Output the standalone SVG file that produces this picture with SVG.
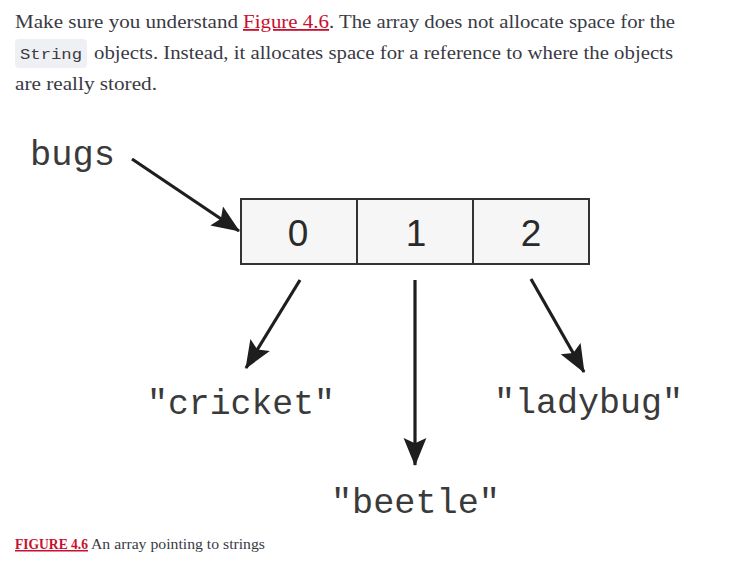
<svg xmlns="http://www.w3.org/2000/svg" width="753" height="588" viewBox="0 0 753 588">
<style>
.p{font-family:"Liberation Serif","DejaVu Serif",serif;font-size:18px;fill:#3a3a44}
.link{fill:#c8102e;text-decoration:underline}
.code{font-family:"Liberation Mono","DejaVu Sans Mono",monospace;font-size:14px;fill:#3a3a44}
.mono{font-family:"Liberation Mono","Courier New",monospace;font-size:35px;fill:#3a3a3a}
.dig{font-family:"Liberation Sans",Arial,sans-serif;font-size:37px;fill:#2a2a2a;text-anchor:middle}
.cell{fill:#f5f6f5;stroke:#333;stroke-width:2}
.arr{stroke:#1e1e1e;stroke-width:3.2;fill:none;marker-end:url(#ah)}
.cap{font-family:"Liberation Serif","DejaVu Serif",serif;font-size:15px;fill:#3a3a44}
.caplink{fill:#c8102e;font-weight:bold;text-decoration:underline}
</style>
<defs>
<marker id="ah" markerUnits="userSpaceOnUse" markerWidth="28" markerHeight="24" viewBox="0 0 27 22" refX="26" refY="11" orient="auto">
<path d="M0,0 L27,11 L0,22 L5,11 Z" fill="#1e1e1e"/>
</marker>
</defs>
<g id="paragraph">
<text class="p" x="15" y="28" textLength="223" lengthAdjust="spacingAndGlyphs">Make sure you understand</text>
<text class="p link" x="243" y="28" textLength="86" lengthAdjust="spacingAndGlyphs">Figure 4.6</text>
<text class="p" x="329" y="28" textLength="346" lengthAdjust="spacingAndGlyphs">. The array does not allocate space for the</text>
<rect x="15" y="39" width="72" height="29" rx="4" fill="#eef0f3"/>
<text class="code" x="20" y="59" textLength="62" lengthAdjust="spacingAndGlyphs">String</text>
<text class="p" x="94" y="59" textLength="579" lengthAdjust="spacingAndGlyphs">objects. Instead, it allocates space for a reference to where the objects</text>
<text class="p" x="15" y="90" textLength="142" lengthAdjust="spacingAndGlyphs">are really stored.</text>
</g>
<g id="bugs"><text class="mono" x="30" y="165" textLength="85" lengthAdjust="spacingAndGlyphs">bugs</text></g>
<g id="array">
<rect class="cell" x="241" y="199" width="116" height="65"/>
<rect class="cell" x="357" y="199" width="116" height="65"/>
<rect class="cell" x="473" y="199" width="116" height="65"/>
<text class="dig" x="298" y="246">0</text>
<text class="dig" x="416" y="246">1</text>
<text class="dig" x="531" y="246">2</text>
</g>
<g id="cricket"><text class="mono" x="147" y="414" textLength="188" lengthAdjust="spacingAndGlyphs">"cricket"</text></g>
<g id="beetle"><text class="mono" x="331" y="513" textLength="169" lengthAdjust="spacingAndGlyphs">"beetle"</text></g>
<g id="ladybug"><text class="mono" x="494" y="413" textLength="189" lengthAdjust="spacingAndGlyphs">"ladybug"</text></g>
<g id="connectors">
<line class="arr" x1="132" y1="159" x2="239" y2="231"/>
<line class="arr" x1="300" y1="280" x2="246" y2="368"/>
<line class="arr" x1="415" y1="280" x2="415" y2="465"/>
<line class="arr" x1="531" y1="279" x2="584" y2="372"/>
</g>
<g id="caption">
<text class="cap caplink" x="15" y="549" textLength="73" lengthAdjust="spacingAndGlyphs">FIGURE 4.6</text>
<text class="cap" x="91" y="549" textLength="174" lengthAdjust="spacingAndGlyphs">An array pointing to strings</text>
</g>
</svg>
